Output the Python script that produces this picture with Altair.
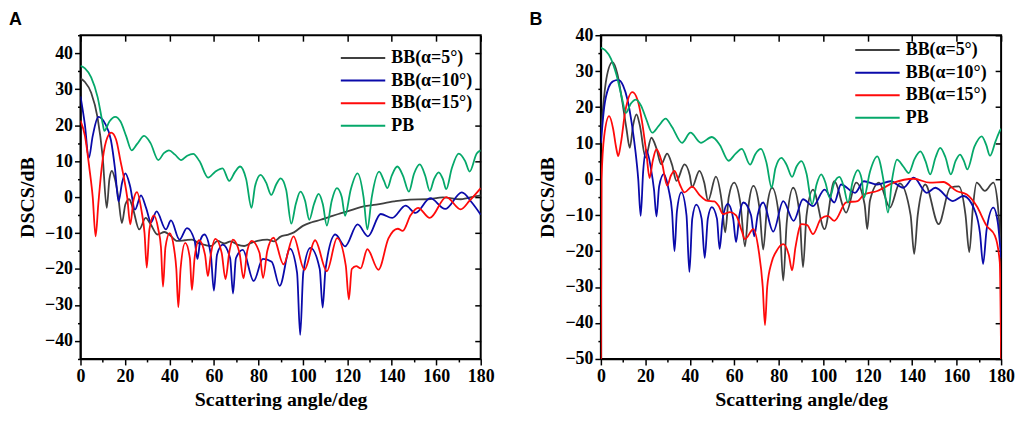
import altair as alt
import pandas as pd

# ---------------- Panel A data ----------------
A_b5_x = [0, 2, 4.8, 7.7, 10, 11.8, 13, 14.1, 15.5, 17, 18.6, 20.2, 21.9, 23.5, 26.4, 29.3, 31.5, 34.6, 37.8,
          40, 43.5, 47, 50.2, 53, 56, 58.7, 61.7, 64.7, 67.6, 70.5, 73.6, 76.5, 79.6, 84, 87, 90, 93, 96, 100,
          104, 108, 112, 116, 120, 126, 133, 141, 148, 156, 163, 171, 178, 180]
A_b5_y = [33, 32, 29, 22, 11, -3, 5, 7.3, 5, 0, -7.2, -2, -0.6, -3, -9, -5.8, -7.5, -10.4, -9.7,
          -10.5, -12.2, -12, -11.8, -12.8, -13.3, -13.6, -12.2, -12.9, -12.3, -13.2, -13.6, -12.8, -12.2, -11.8, -12.3, -11, -10.5, -9.8, -8,
          -7, -6.3, -5.5, -4.7, -4, -2.8, -2.1, -1.2, -0.7, -0.6, -0.1, -0.6, 0.3, 0.5]

A_b10_x = [0, 2, 3.7, 5.5, 8, 11, 13.7, 15.5, 17.1, 18.7, 20.2, 22.3, 24.5, 27.2, 29.5, 31.7, 34.2, 38.4, 40.7,
           44.5, 47.9, 51.3, 52.6, 53.9, 55.7, 58.6, 60, 61.4, 64, 67.3, 68.6, 69.9, 73, 77.9, 82, 86, 89.6, 94.2,
           97.4, 98.8, 100.2, 103.4, 107.6, 108.9, 110.2, 114.6, 119, 124.6, 129.3, 135, 140.2, 146.2, 150.7,
           157.3, 164, 171.5, 176, 180]
A_b10_y = [28, 20, 10.8, 17, 22.3, 20.5, 15.8, 8, -1.2, 4, 6.6, 3, -3.5, 0.5, -3, -7, -4, -9, -6.5,
           -11.8, -8.6, -12, -17.2, -12, -10.4, -16, -26, -16, -13.2, -17, -26.8, -17, -14.7, -23.3, -17.2, -18, -24.7, -14.3,
           -21, -38.3, -21, -14.1, -20, -30.7, -20, -10.4, -13.7, -7.6, -10.9, -4.7, -5.8, -2.4, -4.4,
           -0.3, -3.3, 1.3, -1.5, -4.9]

A_b15_x = [0, 2, 4, 5.5, 6.8, 8, 9.5, 11.5, 13.8, 16, 18, 19.7, 21, 22.4, 23.8, 25.4, 27.5, 28.8, 29.8, 31, 33,
           35, 36.2, 37.1, 38.2, 40.1, 42, 43.1, 44, 45, 47.1, 49.2, 50.1, 51.3, 53.3, 56, 57.3, 58.6, 60.7,
           63.5, 65.2, 67, 68.5, 71.5, 73.3, 75, 77, 80.5, 82.1, 84, 86.8, 91.3, 95.8, 100.7, 105.5, 110.8,
           115.4, 119.3, 120.7, 122, 124, 126, 129, 134, 138.5, 142.7, 144.9, 148.5, 151.8, 157.1, 164.5, 171,
           175, 180]
A_b15_y = [21.3, 17, 8, 0, -10.9, -2, 8, 15.5, 17.9, 16, 10, 4.8, 0, -7.6, -1, 1.4, -4, -10, -19.6, -9, -5.1,
           -9, -14, -24.9, -14, -10, -14, -20, -30.6, -20, -12.7, -17, -25.8, -17, -12, -16, -22, -16, -11.6,
           -15.5, -22.8, -15, -11.8, -15.5, -22.6, -15, -12.2, -15.5, -22.5, -15, -11.3, -18.7, -10.9, -20.2, -12, -20.6,
           -11.4, -19, -28.4, -20, -19.2, -19.8, -14.5, -20.2, -11.5, -8.8, -9.4, -5, -3, -5.8, 0, -3.4,
           -1, 2.5]

A_pb_x = [0, 2, 4.8, 7.7, 10, 10.7, 13, 15.6, 18, 20.5, 23, 25.5, 28.6, 31.5, 35, 37.5, 39.8, 42.5, 45.3, 48,
          50.7, 53.5, 57.4, 60.5, 63.9, 66.9, 69.5, 71.8, 74.5, 76.9, 78.5, 81, 83.5, 85.8, 88, 90, 92.5, 94.8,
          96.8, 98.9, 101, 102.9, 105, 107.1, 109, 110.8, 113, 115.3, 117.5, 119, 121.5, 124.6, 127.3, 129,
          131, 134.3, 136.5, 138, 140, 142.5, 145, 147.7, 150, 152.6, 155, 157.1, 159, 161.1, 163, 164.5, 167,
          170.1, 173, 175, 178.2, 180]
A_pb_y = [36.5, 35.8, 33.3, 27.8, 20.4, 18.4, 21, 22.3, 21, 17, 13, 14.8, 17, 15, 10.3, 12.2, 13, 11.8, 10.3, 11.5,
          12, 10, 5.4, 7, 8, 4.5, 7, 8.5, 5, -3, 3, 6.2, 4, 0.6, 3.5, 5.2, 2, -7.4,
          -2, 1.5, -1, -6.3, -2, 0.9, -2, -7.9, -1, 2.5, 0, -5.2, 2, 6.6, 0, -9,
          0, 7.1, 4.5, 2.5, 6, 8.5, 6, 1.5, 6.5, 9.1, 6, 1.7, 5, 6.9, 5, 2.2, 8,
          12.1, 10, 7.1, 12.1, 13]

# ---------------- Panel B data ----------------
B_b5_x = [0, 1, 2.5, 5.2, 7.5, 9.5, 11.5, 13, 14.5, 16, 17.5, 20.1, 22.7, 25, 27.1, 29.8, 32, 34, 37.6, 40, 41,
          44.3, 46.5, 48.2, 51.7, 54.3, 55.9, 57.5, 59.9, 62.8, 64.8, 66.5, 68.6, 71.3, 73, 74.7, 77, 80.4, 82,
          83.6, 86.5, 89.4, 90.9, 92.5, 95.4, 100.6, 105, 110.3, 114.8, 118.6, 119.8, 121, 125.1, 130, 134.4,
          139.3, 140.9, 142.5, 145.9, 151.9, 157.1, 161, 164, 165.7, 167.3, 169, 172.7, 176.5, 178.5, 180]
B_b5_y = [12, 20, 28, 32.5, 29, 22, 14, 8.7, 15, 18, 15, 6, 11.5, 8.5, 4.1, 7.1, 4, -0.5, 4.1, 1, -2.3,
          2.3, -1, -6, 0.7, -6, -14.8, -5, -1, -7, -18.7, -7, -1.9, -8, -19.6, -8, -2.4, -12, -28.2,
          -12, -2.4, -10, -24.5, -10, -2.9, -13.9, -0.6, -9.3, -1, -7, -13.9, -6, -1, -7.9, -1.2,
          -10, -20.8, -10, -1.5, -12.5, -2.4, -2, -10, -20.3, -8, -1, -3.3, -1, -7, -20]

B_b10_x = [0, 1.5, 3.5, 5.5, 7.8, 10, 12, 14, 15.5, 16.8, 17.9, 19, 20.4, 22.5, 23.9, 25, 26.2, 28.3, 30.5, 32,
           33.1, 34.2, 36.2, 38.5, 39.8, 41.1, 42.9, 45.3, 46.7, 48.1, 49.9, 52.2, 53.4, 54.8, 57.1, 59.5, 60.8,
           62.3, 64.1, 67.5, 69, 70.5, 73, 77.5, 82, 86.7, 90.9, 95.4, 100.6, 105, 108, 114.3, 118.3, 124.3,
           130.3, 136, 140.7, 146.6, 150.4, 158.3, 163, 168.5, 170.5, 171.9, 173.5, 176.5, 178.5, 180]
B_b10_y = [10, 20, 25.5, 27.2, 27.6, 26, 22, 15, 8, 0, -10.2, 2, 8.1, 3, -3, -10.4, -2, 1.4, -3, -9,
           -20, -9, -3.7, -10, -25.8, -11, -7.1, -11, -21.9, -11, -7.8, -11, -19.4, -11, -6.9, -11, -17.5,
           -10, -6.5, -10, -15.9, -10, -6.5, -14.6, -6.1, -11.6, -5.6, -7.5, -2.9, -6.5, -1.5, -3.8, -0.6, -1.5,
           -0.6, -2.4, 0.4, -3.8, -2.4, -6.1, -4.7, -9.3, -15, -23.6, -14, -7.9, -12, -22]

B_b15_x = [0, 0.3, 1.5, 3.7, 5.5, 6.8, 7.8, 9, 11, 14.2, 16.5, 18.5, 20.5, 21.9, 23.3, 25, 27.5, 29.8, 31.5,
           33.1, 35.5, 37.6, 41, 44.5, 47.7, 51, 53, 54.9, 58.1, 60.8, 63.4, 64.8, 68.6, 71, 72.8, 73.8, 74.8,
           76.8, 79, 82, 84.5, 86, 87.5, 90.2, 92.8, 95.4, 99, 102, 105, 110.3, 115.5, 118.3, 124.3, 131.7,
           140.7, 148, 154, 160, 164.6, 169, 173.5, 177.2, 179.4, 180]
B_b15_y = [-50, 0, 12, 17.5, 14, 9, 6.4, 10, 19, 24.2, 22, 16, 7, 0.3, 5, 8.3, 4.5, -1.8, 1,
           2.3, -1.5, -3.7, -2.1, -4.5, -6, -6.2, -7.5, -9.7, -9.2, -10.1, -14.5, -16.7, -13.9, -20, -30, -40.6, -30,
           -23.1, -20, -18.1, -21, -25.4, -19, -12.5, -12.8, -15.3, -11, -10.2, -11.6, -6.5, -6.1, -4.3, -3.3, -1,
           0.1, -1, -0.8, -3.3, -4.3, -7.5, -13, -15.7, -23.1, -50]

B_pb_x = [0, 2, 4.5, 7, 9.5, 11.2, 13.5, 15.7, 18, 20.5, 23.1, 26, 29.1, 32, 36.5, 40.3, 45, 49.9, 53.5, 57.4,
          60.5, 63.4, 67.1, 69.5, 72, 74.5, 76.8, 78.5, 81.2, 83.5, 86, 88, 90.2, 92.5, 95, 97, 99.1, 101,
          102.9, 105, 107.3, 109.2, 111.1, 113.3, 115.5, 117.3, 118.3, 121, 124.3, 127, 129.1, 131, 133.2, 136,
          138.5, 141, 143.7, 146, 148.1, 150.5, 152.6, 155, 157.4, 159.5, 161.5, 163.3, 164.8, 168, 171.3,
          173.3, 175, 177.5, 179.7, 180]
B_pb_y = [36.5, 35.8, 33.5, 29, 22.5, 18.4, 21, 22.1, 20.5, 16.5, 12.9, 14.8, 16.8, 14.5, 10.1, 12.9, 10.1, 11.7, 9.5, 5.1,
          7, 8.4, 4, 7, 8.4, 4.5, -2.4, 3, 5.9, 4, 0.6, 3.5, 5, 1.5, -7, -1.5, 1.3, -1,
          -5.2, -1, 0.6, -2, -6.5, -0.5, 2.5, 0, -5.2, 2, 6.3, 0, -9.3, 0, 5.4, 3.5,
          1.7, 5.5, 7.7, 5, 1.3, 6, 8.7, 6, 1.3, 5, 6.8, 5, 2.7, 9, 11.9,
          9.5, 6.5, 10.5, 13.7, 14]

SERIES = ["BB(α=5°)", "BB(α=10°)", "BB(α=15°)", "PB"]
COLORS = ["#404040", "#0a0aaa", "#ff0a0a", "#05a86a"]
X_TICKS = list(range(0, 181, 20))
X_MINOR = list(range(10, 180, 20))

SERIF = "Liberation Serif"


def frame(series_xy):
    rows = []
    for name, (xs, ys) in zip(SERIES, series_xy):
        for i, (a, b) in enumerate(zip(xs, ys)):
            rows.append({"series": name, "deg": a, "dscs": b, "order": i})
    return pd.DataFrame(rows)


dfA = frame([(A_b5_x, A_b5_y), (A_b10_x, A_b10_y), (A_b15_x, A_b15_y), (A_pb_x, A_pb_y)])
dfB = frame([(B_b5_x, B_b5_y), (B_b10_x, B_b10_y), (B_b15_x, B_b15_y), (B_pb_x, B_pb_y)])

W, H = 403, 326


def panel(df, ydom, yticks, yminor, label, lx, ly, tdy):
    xs = alt.Scale(domain=[0, 180], nice=False, zero=False)
    ys = alt.Scale(domain=ydom, nice=False, zero=False)
    lines = alt.Chart(df).mark_line(strokeWidth=1.8, interpolate="monotone", clip=True).encode(
        x=alt.X("deg:Q", scale=xs, axis=alt.Axis(
            values=X_TICKS, orient="bottom", title="Scattering angle/deg", grid=False,
            labelFont=SERIF, labelFontWeight="bold", labelFontSize=18, labelColor="black",
            titleFont=SERIF, titleFontWeight="bold", titleFontSize=20, titleColor="black",
            tickSize=6, tickWidth=1.5, tickColor="black", domainColor="black", domainWidth=1.5,
            labelPadding=3, titlePadding=4, labelFlush=False)),
        y=alt.Y("dscs:Q", scale=ys, axis=alt.Axis(
            values=yticks, orient="left", title="DSCS/dB", grid=False,
            labelFont=SERIF, labelFontWeight="bold", labelFontSize=18, labelColor="black",
            titleFont=SERIF, titleFontWeight="bold", titleFontSize=20, titleColor="black",
            tickSize=6, tickWidth=1.5, tickColor="black", domainColor="black", domainWidth=1.5,
            labelPadding=2, titlePadding=7, labelFlush=False)),
        color=alt.Color("series:N", scale=alt.Scale(domain=SERIES, range=COLORS), legend=alt.Legend(
            orient="none", legendX=lx, legendY=ly, title=None, symbolType="stroke",
            symbolSize=2000, symbolStrokeWidth=2, labelFont=SERIF, labelFontWeight="bold",
            labelFontSize=18, labelColor="black", clipHeight=18, rowPadding=4.7, labelOffset=5)),
        order="order:Q",
    )
    minor = alt.Chart(df).mark_point(opacity=0, size=1).encode(
        x=alt.X("deg:Q", scale=xs, axis=alt.Axis(
            values=X_MINOR, orient="bottom", title=None, labels=False, domain=False,
            grid=False, tickSize=3, tickWidth=1.5, tickColor="black")),
        y=alt.Y("dscs:Q", scale=ys, axis=alt.Axis(
            values=yminor, orient="left", title=None, labels=False, domain=False,
            grid=False, tickSize=3, tickWidth=1.5, tickColor="black")),
    )
    inner = alt.Chart(df).mark_point(opacity=0, size=1).encode(
        x=alt.X("deg:Q", scale=xs, axis=alt.Axis(
            values=X_TICKS, orient="top", offset=-6, title=None, labels=False, domain=False,
            grid=False, tickSize=6, tickWidth=1.5, tickColor="black")),
        y=alt.Y("dscs:Q", scale=ys, axis=alt.Axis(
            values=yticks, orient="right", offset=-6, title=None, labels=False, domain=False,
            grid=False, tickSize=6, tickWidth=1.5, tickColor="black")),
    )
    return alt.layer(minor, lines, inner).resolve_axis(x="independent", y="independent").properties(
        width=W, height=H, view=alt.ViewBackground(stroke="#000000", strokeWidth=2),
        title=alt.TitleParams(label, anchor="start", frame="group", dx=-72, dy=tdy, offset=6,
                              font="Liberation Sans", fontWeight="bold", fontSize=18, color="black"))


pA = panel(dfA, [-45, 45], list(range(-40, 41, 10)), list(range(-45, 46, 10)), "A", 261, 14, 0)
pB = panel(dfB, [-50, 40], list(range(-50, 41, 10)), list(range(-45, 36, 10)), "B", 255, 6, 9)

chart = alt.hconcat(pA, pB, spacing=33).resolve_scale(color="independent").resolve_legend(
    color="independent").properties(
    padding={"left": 0, "top": 0, "right": 0, "bottom": 0}).configure_view(
    stroke="#000000", strokeWidth=2)

chart.save("out.html", embed_options={"renderer": "svg", "actions": False})
